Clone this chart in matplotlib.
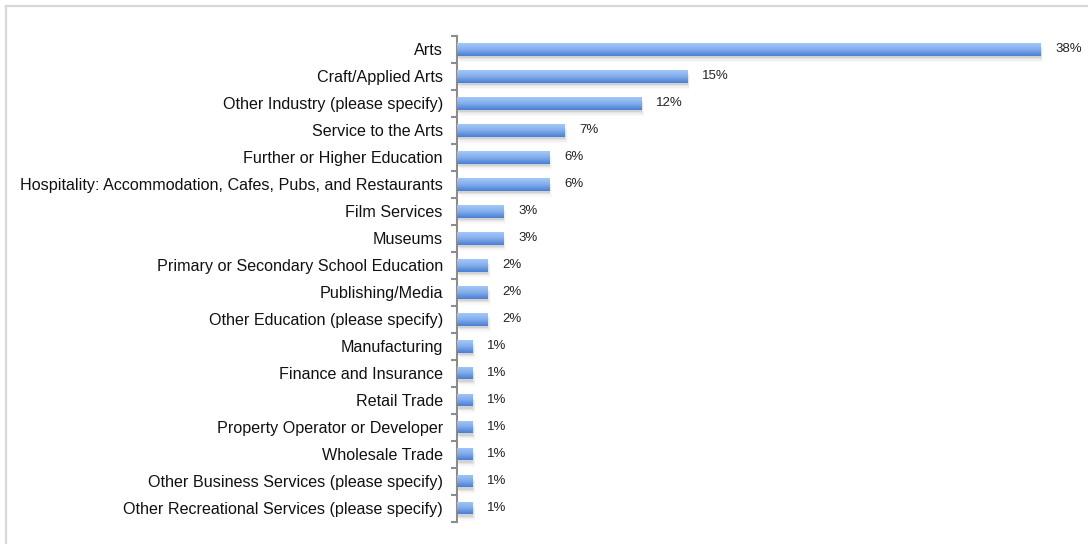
import numpy as np
import matplotlib.pyplot as plt
from matplotlib.colors import LinearSegmentedColormap
from matplotlib.patches import Rectangle

plt.rcParams['font.family'] = ['Liberation Sans', 'DejaVu Sans']

# Share of respondents by industry
industries = [
    "Arts",
    "Craft/Applied Arts",
    "Other Industry (please specify)",
    "Service to the Arts",
    "Further or Higher Education",
    "Hospitality: Accommodation, Cafes, Pubs, and Restaurants",
    "Film Services",
    "Museums",
    "Primary or Secondary School Education",
    "Publishing/Media",
    "Other Education (please specify)",
    "Manufacturing",
    "Finance and Insurance",
    "Retail Trade",
    "Property Operator or Developer",
    "Wholesale Trade",
    "Other Business Services (please specify)",
    "Other Recreational Services (please specify)",
]
shares = [38, 15, 12, 7, 6, 6, 3, 3, 2, 2, 2, 1, 1, 1, 1, 1, 1, 1]

W, H = 1088, 544
fig = plt.figure(figsize=(W / 100, H / 100), dpi=100)

# light frame along the top and left edges
fig.add_artist(plt.Line2D([6 / W, 6 / W], [0, 1 - 6 / H], color='#d9d9d9', lw=1.6))
fig.add_artist(plt.Line2D([6 / W, 1], [1 - 6 / H, 1 - 6 / H], color='#d9d9d9', lw=1.6))

ax = fig.add_axes([456.7 / W, 1 - 521.7 / H, 614 / W, (521.7 - 36) / H])

n = len(industries)
y = np.arange(n)
bars = ax.barh(y, shares, height=0.46, color='none', edgecolor='none', zorder=3)

grad = LinearSegmentedColormap.from_list('bar', ['#a3c8f9', '#82acec', '#4a7ed3'])
shade = np.linspace(0, 1, 64).reshape(-1, 1)
for b in bars:
    x0, y0 = b.get_x(), b.get_y()
    w, h = b.get_width(), b.get_height()
    # soft drop shadow under each bar
    for k, a in enumerate([0.12, 0.08, 0.05, 0.03]):
        ax.add_patch(Rectangle((x0 + 0.06 + 0.05 * k, y0 + 0.08 + 0.05 * k), w, h,
                               facecolor='#555555', edgecolor='none', alpha=a, zorder=2))
    im = ax.imshow(shade, cmap=grad, aspect='auto', extent=(x0, x0 + w, y0 + h, y0),
                   zorder=3, interpolation='bilinear')
    im.set_clip_path(b)

for yi, v in zip(y, shares):
    ax.annotate(f"{v}%", (v, yi), xytext=(11, 0), textcoords='offset points',
                va='center', ha='left', fontsize=9.5, color='#222222')

ax.set_xlim(0, 40)
ax.set_ylim(n - 0.5, -0.5)

for s in ['top', 'right', 'bottom']:
    ax.spines[s].set_visible(False)
ax.spines['left'].set_color('#8c8c8c')
ax.spines['left'].set_linewidth(1.5)
ax.set_xticks([])

ax.set_yticks(y)
ax.set_yticklabels(industries, fontsize=11.6, color='#111111')
ax.tick_params(axis='y', which='major', length=0, pad=10)
ax.set_yticks(np.arange(n + 1) - 0.5, minor=True)
ax.tick_params(axis='y', which='minor', length=4, width=1.5, color='#8c8c8c')

fig.savefig('out.png', dpi=100)
